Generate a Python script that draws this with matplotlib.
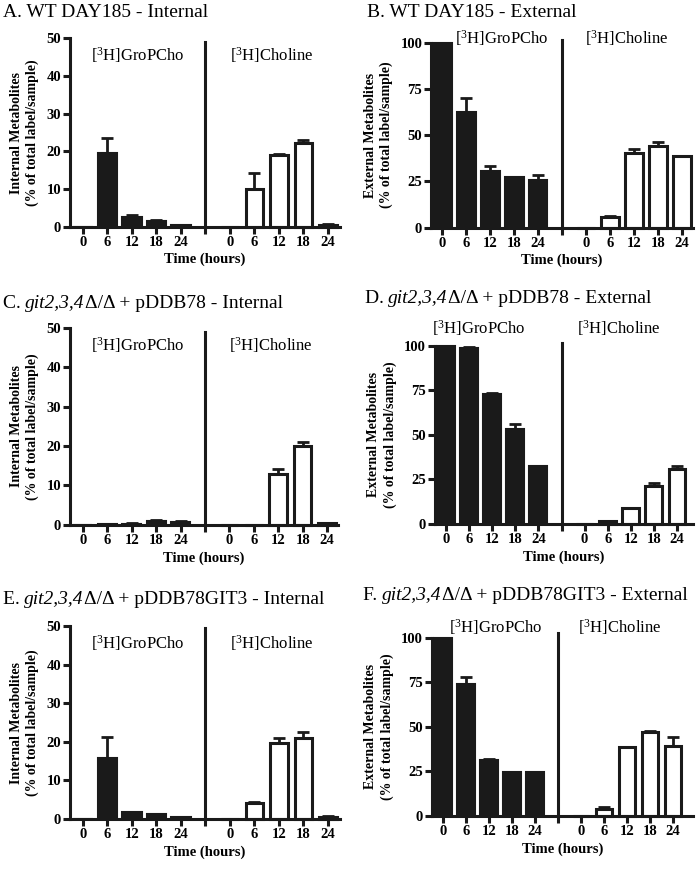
import matplotlib
matplotlib.use("Agg")
import matplotlib.pyplot as plt
import numpy as np

plt.rcParams['font.family'] = 'Liberation Serif'
plt.rcParams['mathtext.fontset'] = 'custom'
plt.rcParams['mathtext.rm'] = 'Liberation Serif'
plt.rcParams['mathtext.it'] = 'Liberation Serif:italic'

# === DATA ===
hours = ['0', '6', '12', '18', '24']

# A. WT internal
a_gpc = [0, 19.5, 2.6, 1.5, 0.4]
a_gpc_err = [0, 4.0, 0.5, 0.2, 0.1]
a_cho = [0, 10.0, 19.0, 22.2, 0.5]
a_cho_err = [0, 4.3, 0.2, 0.8, 0.3]

# B. WT external
b_gpc = [100, 62.3, 30.4, 27.2, 26.0]
b_gpc_err = [0, 8.0, 3.0, 0.3, 2.6]
b_cho = [0, 5.8, 40.4, 44.0, 38.5]
b_cho_err = [0, 0.5, 2.0, 2.3, 0]

# C. git2,3,4 + pDDB78 internal
c_gpc = [0, 0.2, 0.3, 1.0, 0.7]
c_gpc_err = [0, 0.1, 0.1, 0.2, 0.2]
c_cho = [0, 0, 12.9, 19.9, 0.5]
c_cho_err = [0, 0, 1.2, 1.2, 0.1]

# D. git2,3,4 + pDDB78 external
d_gpc = [100, 99.0, 73.2, 53.1, 32.5]
d_gpc_err = [0, 0.5, 0.3, 3.2, 0]
d_cho = [0, 1.5, 9.0, 21.2, 31.1]
d_cho_err = [0, 0.3, 0, 1.9, 1.4]

# E. git2,3,4 + pDDB78GIT3 internal
e_gpc = [0, 15.7, 1.7, 1.2, 0.5]
e_gpc_err = [0, 5.6, 0.2, 0.2, 0.1]
e_cho = [0, 4.2, 19.6, 20.9, 0.6]
e_cho_err = [0, 0.3, 1.5, 1.7, 0.2]

# F. git2,3,4 + pDDB78GIT3 external
f_gpc = [100, 74.2, 31.5, 24.9, 24.5]
f_gpc_err = [0, 3.7, 0.7, 0, 0]
f_cho = [0, 3.7, 38.9, 47.4, 39.5]
f_cho_err = [0, 1.5, 0, 0.5, 4.7]

GPC = r'[$\mathregular{^3}$H]GroPCho'
CHO = r'[$\mathregular{^3}$H]Choline'

LW = 2.2
INK = '#1a1a1a'


def panel(rect, gpc, gpc_err, cho, cho_err, ymax, ystep, ylabel, xlim, lab_y, gpc_x, cho_x, div_top):
    ax = fig.add_axes(rect)
    x1 = np.arange(5)
    x2 = np.arange(5) + 6
    ax.errorbar(x1, gpc, yerr=[np.zeros(5), gpc_err], fmt='none', ecolor=INK,
                elinewidth=2, capsize=4, capthick=2, zorder=1, clip_on=False)
    ax.errorbar(x2, cho, yerr=[np.zeros(5), cho_err], fmt='none', ecolor=INK,
                elinewidth=2, capsize=4, capthick=2, zorder=1, clip_on=False)
    ax.bar(x1, gpc, width=0.78, color=INK, edgecolor=INK, linewidth=1.5,
           zorder=2, clip_on=False)
    ax.bar(x2, cho, width=0.72, color='white', edgecolor=INK, linewidth=LW,
           zorder=2, clip_on=False)
    ax.plot([5, 5], [0, div_top], color=INK, lw=LW, clip_on=False, zorder=3)

    ax.set_xlim(*xlim)
    ax.set_ylim(0, ymax)
    ax.set_yticks(np.arange(0, ymax + 1, ystep))
    ax.set_xticks(list(range(11)))
    ax.set_xticklabels(hours + [''] + hours)
    for s in ['top', 'right']:
        ax.spines[s].set_visible(False)
    for s in ['left', 'bottom']:
        ax.spines[s].set_linewidth(LW)
        ax.spines[s].set_color(INK)
    ax.tick_params(width=LW, length=5, color=INK, labelsize=10.5, pad=1.5)
    for t in ax.get_xticklabels() + ax.get_yticklabels():
        t.set_fontweight('bold')
    ax.set_ylabel(ylabel + ' Metabolites\n(% of total label/sample)', fontsize=10,
                  fontweight='bold', labelpad=5, linespacing=1.3)
    ax.set_xlabel('Time (hours)', fontsize=10.5, fontweight='bold', labelpad=3)
    ax.text(gpc_x, lab_y, GPC, ha='center', va='center', fontsize=12)
    ax.text(cho_x, lab_y, CHO, ha='center', va='center', fontsize=12)
    return ax


def title(x, y, parts):
    renderer = fig.canvas.get_renderer()
    for txt, style in parts:
        t = fig.text(x, y, txt, fontsize=14, style=style, va='center')
        x += t.get_window_extent(renderer).width / fig.bbox.width


fig = plt.figure(figsize=(7, 8.69), dpi=100)

panel([0.100, 0.739, 0.386, 0.217], a_gpc, a_gpc_err, a_cho, a_cho_err, 50, 10, 'Internal',
      (-0.53, 10.5), 45.5, 2.25, 7.7, 49)
panel([0.616, 0.738, 0.374, 0.213], b_gpc, b_gpc_err, b_cho, b_cho_err, 100, 25, 'External',
      (-0.46, 10.46), 102.7, 2.5, 7.7, 101.6)
panel([0.100, 0.396, 0.383, 0.227], c_gpc, c_gpc_err, c_cho, c_cho_err, 50, 10, 'Internal',
      (-0.53, 10.45), 45.5, 2.25, 7.7, 49)
panel([0.621, 0.397, 0.369, 0.205], d_gpc, d_gpc_err, d_cho, d_cho_err, 100, 25, 'External',
      (-0.5, 10.7), 110, 1.4, 7.5, 101.7)
panel([0.100, 0.0575, 0.386, 0.222], e_gpc, e_gpc_err, e_cho, e_cho_err, 50, 10, 'Internal',
      (-0.53, 10.5), 45.5, 2.25, 7.7, 49.5)
panel([0.617, 0.061, 0.373, 0.205], f_gpc, f_gpc_err, f_cho, f_cho_err, 100, 25, 'External',
      (-0.48, 10.87), 106, 2.3, 7.7, 103)

title(0.004, 0.986, [('A. WT DAY185 - Internal', 'normal')])
title(0.524, 0.986, [('B. WT DAY185 - External', 'normal')])
title(0.004, 0.651, [('C. ', 'normal'), ('git2,3,4', 'italic'), ('Δ/Δ + pDDB78 - Internal', 'normal')])
title(0.521, 0.656, [('D. ', 'normal'), ('git2,3,4', 'italic'), ('Δ/Δ + pDDB78 - External', 'normal')])
title(0.004, 0.310, [('E. ', 'normal'), ('git2,3,4', 'italic'), ('Δ/Δ + pDDB78GIT3 - Internal', 'normal')])
title(0.519, 0.315, [('F. ', 'normal'), ('git2,3,4', 'italic'), ('Δ/Δ + pDDB78GIT3 - External', 'normal')])

fig.savefig('out.png', dpi=100)
